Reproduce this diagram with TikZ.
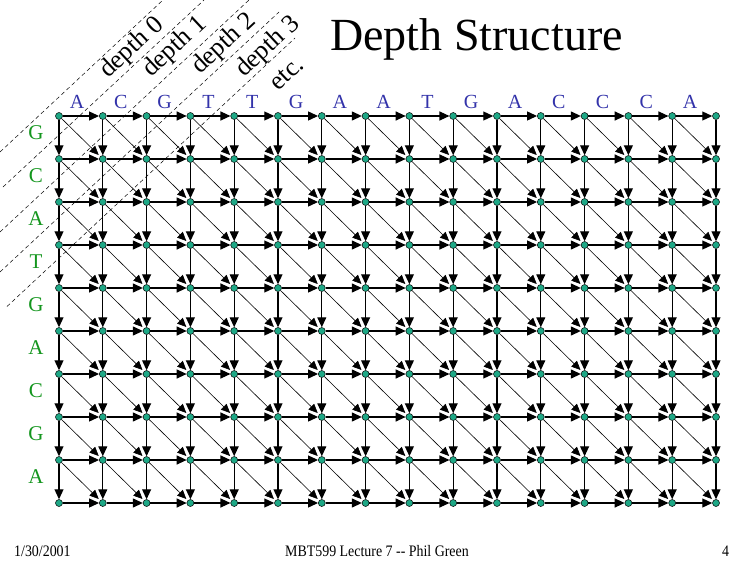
\documentclass[tikz,border=0pt]{standalone}
\usepackage{fontspec}
\setmainfont{Liberation Serif}
\usetikzlibrary{arrows.meta}
\definecolor{dotteal}{RGB}{30,168,134}
\definecolor{seqblue}{RGB}{51,51,170}
\definecolor{seqgreen}{RGB}{20,150,30}
\tikzset{
    dot/.style={circle, draw=black, line width=0.5pt, fill=dotteal, inner sep=0pt, minimum size=7pt},
    across/.style={line width=1.2pt, -{Triangle[length=10pt,width=9pt]}},
    diag/.style={line width=0.6pt, -{Triangle[length=9pt,width=8pt]}, shorten >=2pt},
    depthline/.style={line width=0.5pt, dash pattern=on 4pt off 3pt},
    depthlabel/.style={font=\fontsize{26}{26}\selectfont, rotate=43, inner sep=0pt},
    toplabel/.style={font=\fontsize{20}{20}\selectfont, text=seqblue, anchor=base, inner sep=0pt},
    sidelabel/.style={font=\fontsize{21}{21}\selectfont, text=seqgreen, inner sep=0pt},
    footer/.style={font=\fontsize{16}{16}\selectfont, xscale=0.87, anchor=base west, inner sep=0pt}
}
\begin{document}
\begin{tikzpicture}[x=1pt, y=-1pt]
    \fill[white] (0, 0) rectangle (750, 562);
    \useasboundingbox (0, 0) rectangle (750, 562);
    \node[anchor=base west, inner sep=0pt, font=\fontsize{46}{46}\selectfont] (title) at (330, 50) {Depth Structure};
    \draw[depthline] (0, 152) -- (163, 0);
    \draw[depthline] (3, 187) -- (204, 0);
    \draw[depthline] (0, 232) -- (249, 0);
    \draw[depthline] (0, 272) -- (279, 12);
    \draw[depthline] (7, 306.5) -- (295, 38);
    \node[depthlabel] (depth0) at (132, 48) {depth 0};
    \node[depthlabel] (depth1) at (175, 47) {depth 1};
    \node[depthlabel] (depth2) at (224, 44) {depth 2};
    \node[depthlabel] (depth3) at (268, 47) {depth 3};
    \node[depthlabel] (etc) at (287, 74) {etc.};
    \foreach \b [count=\i from 0] in {A,C,G,T,T,G,A,A,T,G,A,C,C,C,A}
        \node[toplabel] (top-\i) at (77 + 43.8*\i, 108) {\b};
    \foreach \b [count=\j from 0] in {G,C,A,T,G,A,C,G,A}
        \node[sidelabel] (side-\j) at (36, 132.5 + 43*\j) {\b};
    \foreach \i in {0,...,15}
        \foreach \j in {0,...,9}
            \node[dot] (n-\i-\j) at (59 + 43.8*\i, 116 + 43*\j) {};
    \foreach \i in {0,...,15}
        \foreach \j in {0,...,9} {
            \pgfmathtruncatemacro{\inext}{\i + 1}
            \pgfmathtruncatemacro{\jnext}{\j + 1}
            \ifnum\i<15 \draw[across] (n-\i-\j) -- (n-\inext-\j); \fi
            \ifnum\j<9 \draw[across] (n-\i-\j) -- (n-\i-\jnext); \fi
            \ifnum\i<15 \ifnum\j<9 \draw[diag] (n-\i-\j) -- (n-\inext-\jnext); \fi\fi
        }
    \node[footer] (date) at (14, 556) {1/30/2001};
    \node[footer] (course) at (285, 556) {MBT599 Lecture 7 -{}- Phil Green};
    \node[footer] (page) at (722, 556) {4};
\end{tikzpicture}
\end{document}
